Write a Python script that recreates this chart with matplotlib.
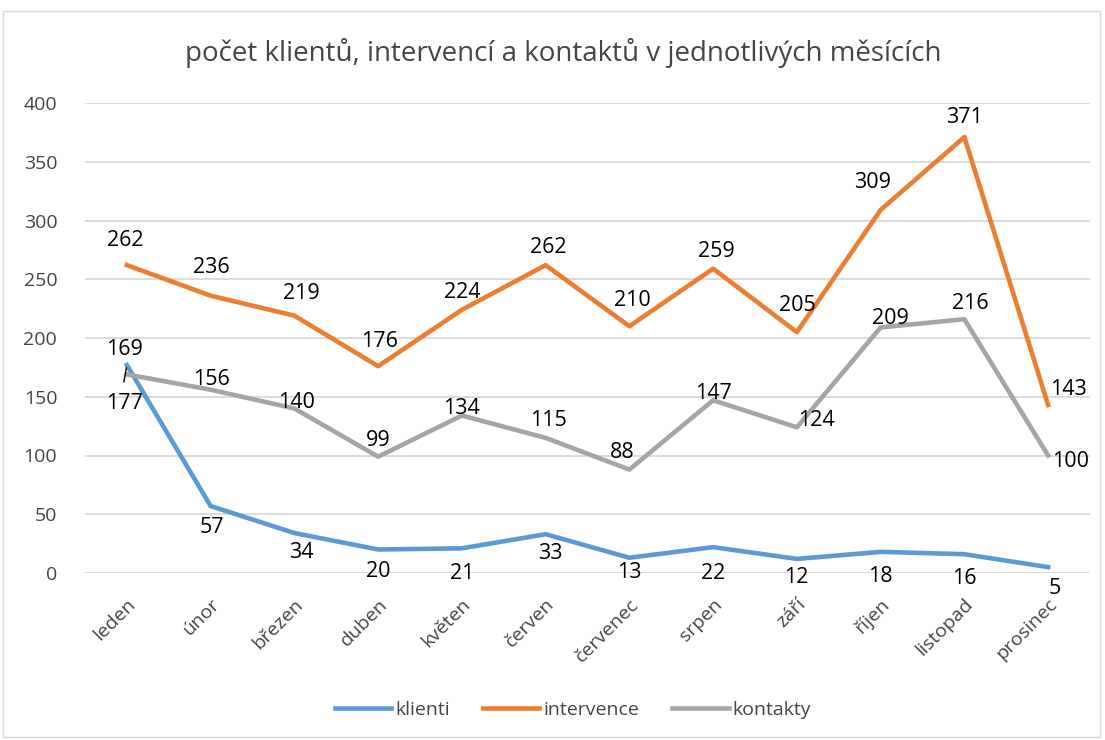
import matplotlib
matplotlib.use("Agg")
import matplotlib.pyplot as plt
from matplotlib.patches import Rectangle

plt.rcParams['font.family'] = ['Open Sans', 'DejaVu Sans']

months = ["leden", "únor", "březen", "duben", "květen", "červen",
          "červenec", "srpen", "září", "říjen", "listopad", "prosinec"]
klienti = [177, 57, 34, 20, 21, 33, 13, 22, 12, 18, 16, 5]
intervence = [262, 236, 219, 176, 224, 262, 210, 259, 205, 309, 371, 143]
kontakty = [169, 156, 140, 99, 134, 115, 88, 147, 124, 209, 216, 100]
title = "počet klientů, intervencí a kontaktů v jednotlivých měsících"

# label offsets in pixels (styling)
off_k = [(-2, -38), (1, -21), (7, -19), (0, -22), (0, -25), (5, -19),
         (0, -15), (0, -26), (-1, -19), (0, -25), (0, -24), (7, -21)]
off_i = [(-2, 25), (1, 28), (7, 22), (1, 25), (0, 17), (3, 18),
         (3, 26), (3, 17), (0, 27), (-8, 27), (0, 20), (20, 15)]
off_c = [(-2, 25), (1, 10), (2, 6), (0, 16), (0, 7), (3, 17),
         (-7, 17), (0, 7), (19, 7), (10, 9), (6, 16), (22, -6)]

c_blue, c_orange, c_gray = "#5B9BD5", "#ED7D31", "#A5A5A5"
txt = "#454545"

W, H = 1105, 740
fig = plt.figure(figsize=(W / 100, H / 100), dpi=100)
fig.patches.append(Rectangle((3 / W, 3 / H), 1097 / W, (H - 14) / H,
                             transform=fig.transFigure, fill=False,
                             edgecolor="#D9D9D9", lw=1))
ax = fig.add_axes([85 / W, 1 - 573 / H, (1090 - 85) / W, (573 - 103) / H])

x = list(range(len(months)))
ax.plot(x, klienti, color=c_blue, lw=3.3, label="klienti", solid_joinstyle="round")
ax.plot(x, intervence, color=c_orange, lw=3.3, label="intervence", solid_joinstyle="round")
ax.plot(x, kontakty, color=c_gray, lw=3.3, label="kontakty", solid_joinstyle="round")

lab_fs = 15.5
for vals, offs in ((klienti, off_k), (intervence, off_i), (kontakty, off_c)):
    for xi, v, o in zip(x, vals, offs):
        ax.annotate(str(v), (xi, v), xytext=o, textcoords="offset pixels",
                    ha="center", va="center", fontsize=lab_fs, color="black")

# leader line for leden klienti label
ax.annotate("", xy=(0, klienti[0]), xytext=(-3, -17), textcoords="offset pixels",
            arrowprops=dict(arrowstyle="-", color="black", lw=1, shrinkA=0, shrinkB=2))

ax.set_xlim(-0.5, len(months) - 0.5)
ax.set_ylim(0, 400)
ax.set_yticks(range(0, 401, 50))
ax.set_xticks(x)
ax.set_xticklabels(months, rotation=45, ha="right", va="top",
                   rotation_mode="anchor", fontsize=14, color=txt)
ax.tick_params(axis="y", labelsize=14, labelcolor=txt, length=0, pad=20)
ax.tick_params(axis="x", length=0, pad=16)
for lbl in ax.get_yticklabels():
    lbl.set_horizontalalignment("right")
ax.grid(axis="y", color="#D9D9D9", lw=1.3)
ax.set_axisbelow(True)
for s in ax.spines.values():
    s.set_visible(False)

fig.text(563 / W, 1 - 53 / H, title, ha="center", va="center",
         fontsize=20, color=txt)

fig.legend(loc="center", bbox_to_anchor=(573 / W, 1 - 710 / H), ncol=3,
           frameon=False, fontsize=14, labelcolor=txt, handlelength=2.9,
           columnspacing=1.7, handletextpad=0.2)

fig.savefig("out.png", dpi=100)
